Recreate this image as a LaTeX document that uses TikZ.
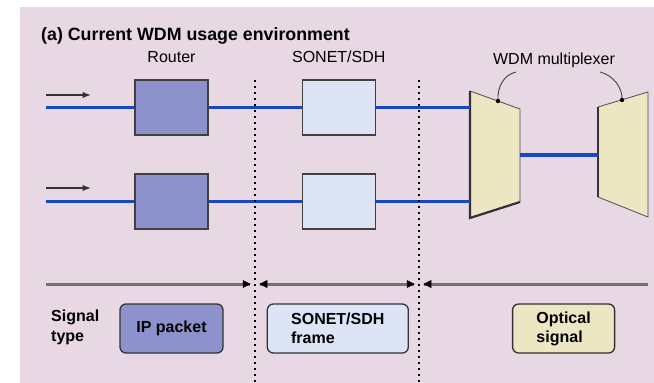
\documentclass[tikz,border=0pt]{standalone}
\usepackage{fontspec}
\setmainfont{Liberation Sans}
\usetikzlibrary{arrows.meta,positioning}
\usepackage{xcolor}
\definecolor{bgpink}{HTML}{E8D8E4}
\definecolor{routerblue}{HTML}{8E92CC}
\definecolor{sonetblue}{HTML}{DCE4F6}
\definecolor{muxcream}{HTML}{ECE6C2}
\definecolor{fiberblue}{HTML}{1848C0}
\definecolor{spangray}{HTML}{766E70}

\begin{document}
\begin{tikzpicture}[x=1pt,y=-1pt,>=Latex,
  unit/.style={draw=black!75, line width=1.3pt, minimum width=73pt, minimum height=55pt, inner sep=0pt},
  sigbox/.style={draw=black!80, line width=1.3pt, rounded corners=6pt, minimum height=49pt, inner sep=0pt, align=left, font=\bfseries\fontsize{16}{19}\selectfont},
  lbl/.style={font=\fontsize{16}{19}\selectfont},
  fiber/.style={draw=fiberblue, line width=3.5pt},
  sigspan/.style={draw=spangray, line width=3pt},
  spantip/.style={fill=black, draw=black, line width=0.5pt},
  divider/.style={line width=1.6pt, dash pattern=on 1.6pt off 4.4pt},
  mux/.style={fill=muxcream, draw=black!70, line width=0.8pt}]
  % frame and background
  \useasboundingbox (0,0) rectangle (654,383);
  \fill[bgpink] (20,7) rectangle (654,383);
  \node (title) [anchor=west, inner sep=0pt, font=\bfseries\fontsize{17.8}{20}\selectfont] at (41,36) {(a) Current WDM usage environment};

  % equipment
  \node (r1) [unit, fill=routerblue] at (171.5,107.5) {};
  \node (r2) [unit, fill=routerblue] at (171.5,201.5) {};
  \node (s1) [unit, fill=sonetblue, right=93pt of r1] {};
  \node (s2) [unit, fill=sonetblue, right=93pt of r2] {};
  \node (rlbl) [lbl, above=13pt of r1] {Router};
  \node (slbl) [lbl, above=13pt of s1] {SONET/SDH};

  % WDM multiplexers
  \coordinate (m1tl) at (470,91);  \coordinate (m1tr) at (520,109);
  \coordinate (m1br) at (520,202); \coordinate (m1bl) at (470,218);
  \coordinate (m2tl) at (598,107); \coordinate (m2tr) at (648,92);
  \coordinate (m2br) at (648,217); \coordinate (m2bl) at (598,197);
  \filldraw[mux] (m1tl) -- (m1tr) -- (m1br) -- (m1bl) -- cycle;
  \filldraw[mux] (m2tl) -- (m2tr) -- (m2br) -- (m2bl) -- cycle;
  \draw[line width=2.2pt, black!80] (m1tl) -- (m1bl) -- (m1br);
  \draw[line width=2.2pt, black!80] (m2tl) -- (m2bl);
  \node (wlbl) [lbl] at (554,60) {WDM multiplexer};
  \coordinate (m1dot) at (498,101);
  \coordinate (m2dot) at (622,100);
  \draw[line width=0.9pt, black!75] (516,72) .. controls (503,75) and (497,88) .. (m1dot);
  \draw[line width=0.9pt, black!75] (600,72) .. controls (613,75) and (623,88) .. (m2dot);
  \fill (m1dot) circle (2.2pt);
  \fill (m2dot) circle (2.2pt);

  % fibres
  \coordinate (in1) at (46,107.5);
  \coordinate (in2) at (46,201.5);
  \coordinate (m1a) at (470,107.5);
  \coordinate (m1b) at (470,201.5);
  \coordinate (mo1) at (520,155);
  \coordinate (mo2) at (598,155);
  \draw[fiber] (in1) -- (r1);
  \draw[fiber] (r1) -- (s1);
  \draw[fiber] (s1) -- (m1a);
  \draw[fiber] (in2) -- (r2);
  \draw[fiber] (r2) -- (s2);
  \draw[fiber] (s2) -- (m1b);
  \draw[fiber] (mo1) -- (mo2);

  % input arrows
  \coordinate (a1s) at (46,95);  \coordinate (a1e) at (91,95);
  \coordinate (a2s) at (46,188); \coordinate (a2e) at (91,188);
  \draw[->, line width=1.2pt, black!80] (a1s) -- (a1e);
  \draw[->, line width=1.2pt, black!80] (a2s) -- (a2e);

  % dividers
  \coordinate (d1t) at (255,80);  \coordinate (d1b) at (255,383);
  \coordinate (d2t) at (419,80);  \coordinate (d2b) at (419,383);
  \draw[divider] (d1t) -- (d1b);
  \draw[divider] (d2t) -- (d2b);

  % signal spans: grey bars, black tips
  \coordinate (p1s) at (46,284);  \coordinate (p1e) at (250,284);
  \coordinate (p2s) at (260,284); \coordinate (p2e) at (414,284);
  \coordinate (p3s) at (648,284); \coordinate (p3e) at (424,284);
  \draw[sigspan] (p1s) -- (p1e);
  \draw[sigspan] (p2s) -- (p2e);
  \draw[sigspan] (p3s) -- (p3e);
  \foreach \tip/\dir in {p1e/-1, p2s/1, p2e/-1, p3e/1}
    \filldraw[spantip] (\tip) -- ++(7*\dir,-3.5) -- ++(0,7) -- cycle;

  % signal types
  \node (sigtype) [anchor=west, align=left, inner sep=0pt, font=\bfseries\fontsize{16}{20}\selectfont] at (51,327) {Signal\\type};
  \node (ip) [sigbox, fill=routerblue, minimum width=103pt] at (171.5,328.5) {IP packet};
  \node (frame) [sigbox, fill=sonetblue, minimum width=141pt, right=43pt of ip] {SONET/SDH\\frame};
  \node (optical) [sigbox, fill=muxcream, minimum width=102pt, right=103pt of frame] {Optical\\signal};
\end{tikzpicture}
\end{document}
